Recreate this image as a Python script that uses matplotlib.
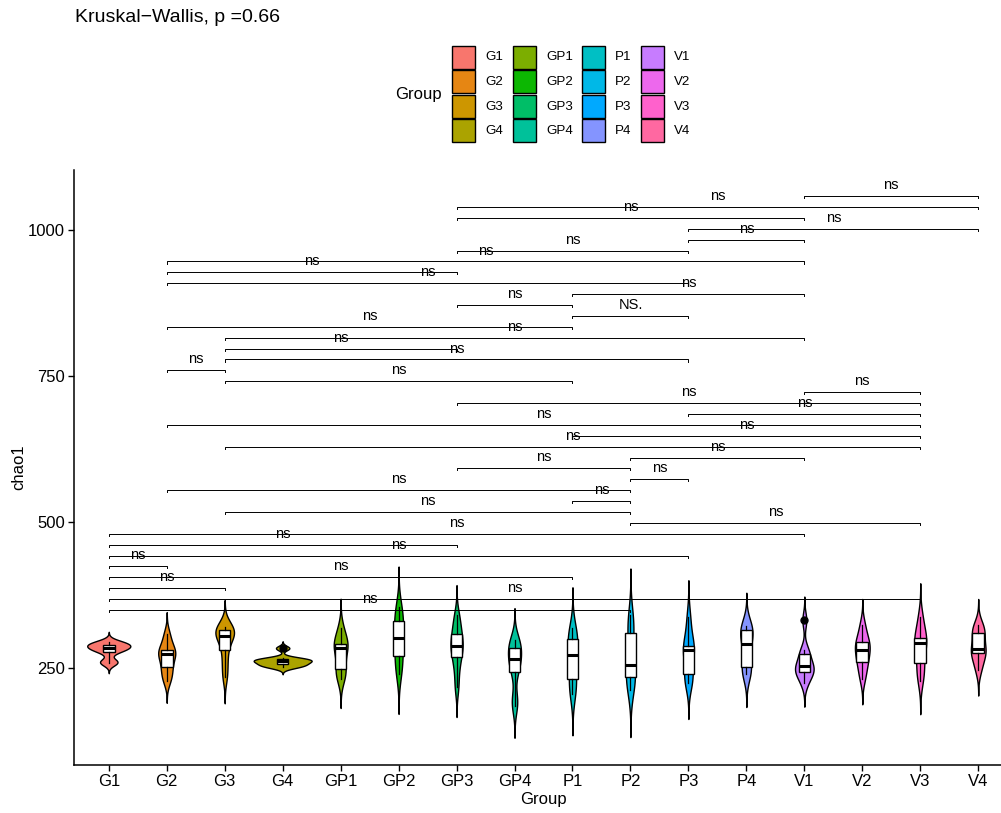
import matplotlib
matplotlib.use('Agg')
import matplotlib.pyplot as plt
from matplotlib.patches import Rectangle
import numpy as np

plt.rcParams['font.family'] = ['Liberation Sans', 'DejaVu Sans']

# group names and colours (ggplot hue palette, 16 levels)
groups = ['G1', 'G2', 'G3', 'G4', 'GP1', 'GP2', 'GP3', 'GP4',
          'P1', 'P2', 'P3', 'P4', 'V1', 'V2', 'V3', 'V4']
colors = ['#F8766D', '#E68613', '#CD9600', '#ABA300', '#7CAE00', '#0CB702', '#00BE67', '#00C19A',
          '#00BFC4', '#00B8E7', '#00A9FF', '#8494FF', '#C77CFF', '#ED68ED', '#FF61CC', '#FF68A1']

# chao1 values per group
G1 = [258, 262, 277, 282, 284, 287, 290, 292, 295]
G2 = [228, 240, 251, 262, 274, 276, 280, 292, 308]
G3 = [235, 258, 280, 298, 305, 310, 315, 318, 321]
G4 = [251, 254, 256, 259, 262, 263, 265, 267, 284]
GP1 = [232, 242, 249, 268, 285, 287, 291, 302, 318]
GP2 = [240, 255, 270, 290, 301, 312, 330, 342, 355]
GP3 = [218, 248, 268, 280, 288, 296, 308, 322, 340]
GP4 = [185, 198, 243, 255, 265, 272, 285, 292, 298]
P1 = [205, 218, 232, 255, 273, 285, 299, 305, 318]
P2 = [212, 225, 235, 245, 255, 278, 310, 325, 340]
P3 = [225, 232, 240, 268, 280, 284, 288, 310, 338]
P4 = [240, 246, 252, 275, 291, 305, 315, 318, 322]
V1 = [224, 238, 243, 248, 253, 258, 274, 280, 332]
V2 = [232, 250, 261, 272, 281, 288, 295, 305, 324]
V3 = [228, 245, 258, 280, 292, 297, 302, 318, 338]
V4 = [247, 262, 276, 279, 282, 298, 310, 316, 324]
samples = [G1, G2, G3, G4, GP1, GP2, GP3, GP4, P1, P2, P3, P4, V1, V2, V3, V4]

# pairwise comparisons, bottom bracket first
comparisons = [('G1', 'P2'), ('G1', 'V3'), ('G1', 'G3'), ('G1', 'P1'), ('G1', 'G2'),
               ('G1', 'P3'), ('G1', 'GP3'), ('G1', 'V1'), ('P2', 'V3'), ('G3', 'P2'),
               ('P1', 'P2'), ('G2', 'P2'), ('P2', 'P3'), ('GP3', 'P2'), ('P2', 'V1'),
               ('G3', 'V3'), ('P1', 'V3'), ('G2', 'V3'), ('P3', 'V3'), ('GP3', 'V3'),
               ('V1', 'V3'), ('G3', 'P1'), ('G2', 'G3'), ('G3', 'P3'), ('G3', 'GP3'),
               ('G3', 'V1'), ('G2', 'P1'), ('P1', 'P3'), ('GP3', 'P1'), ('P1', 'V1'),
               ('G2', 'P3'), ('G2', 'GP3'), ('G2', 'V1'), ('GP3', 'P3'), ('P3', 'V1'),
               ('P3', 'V4'), ('GP3', 'V1'), ('GP3', 'V4'), ('V1', 'V4')]
comp_labels = ['NS.' if c == ('P1', 'P3') else 'ns' for c in comparisons]
y_first, y_step = 349.3, 18.65


def kde_nrd0(x):
    x = np.asarray(x, float)
    n = len(x)
    iqr = np.subtract(*np.percentile(x, [75, 25]))
    bw = 0.9 * min(x.std(ddof=1), iqr / 1.34) * n ** -0.2
    grid = np.linspace(x.min() - 3 * bw, x.max() + 3 * bw, 512)
    d = np.exp(-0.5 * ((grid[:, None] - x[None, :]) / bw) ** 2).sum(1) / (n * bw * np.sqrt(2 * np.pi))
    return grid, d


W, H = 1001, 813
fig = plt.figure(figsize=(W / 100, H / 100), dpi=100)
ax = fig.add_axes([74 / W, 1 - 765 / H, (1013 - 74) / W, (765 - 170) / H])

dens = [kde_nrd0(s) for s in samples]
dmax = max(d.max() for _, d in dens)
pos = np.arange(1, len(groups) + 1)
for i, (grid, d) in enumerate(dens):
    hw = d / dmax * 0.5
    ax.fill_betweenx(grid, pos[i] - hw, pos[i] + hw, facecolor=colors[i],
                     edgecolor='black', linewidth=1.0, zorder=2)

ax.boxplot(samples, positions=pos, widths=0.2, patch_artist=True, showcaps=False,
           manage_ticks=False, zorder=3,
           boxprops=dict(facecolor='white', edgecolor='black', linewidth=1.0),
           medianprops=dict(color='black', linewidth=2.2),
           whiskerprops=dict(color='black', linewidth=0.9),
           flierprops=dict(marker='o', markerfacecolor='black', markeredgecolor='black', markersize=5))

# significance brackets
tip = 3.5
for k, ((a, b), lab) in enumerate(zip(comparisons, comp_labels)):
    x1, x2 = groups.index(a) + 1, groups.index(b) + 1
    y = y_first + k * y_step
    ax.plot([x1, x1, x2, x2], [y - tip, y, y, y - tip], color='black', lw=0.7, zorder=4)
    ax.annotate(lab, ((x1 + x2) / 2, y), xytext=(0, 5.0), textcoords='offset points',
                ha='center', va='baseline', fontsize=10.5, zorder=5)

ax.set_xlim(0.4, 16.6)
ax.set_ylim(83.9, 1102.7)
ax.set_xticks(pos)
ax.set_xticklabels(groups)
ax.set_yticks([250, 500, 750, 1000])
ax.tick_params(labelsize=12, length=4, width=1, pad=2.5, colors='black')
for s in ['top', 'right']:
    ax.spines[s].set_visible(False)
for s in ['left', 'bottom']:
    ax.spines[s].set_linewidth(1.1)
ax.set_xlabel('Group', fontsize=12, labelpad=2)
ax.set_ylabel('chao1', fontsize=12, labelpad=1)

fig.text(75 / W, 1 - 17 / H, 'Kruskal\u2212Wallis, p =0.66', fontsize=14, va='center', ha='left')

# legend: 4 x 4 grid of keys, filled column by column
key_cols = [452, 513, 582, 641]
key_top, key_size, row_step = 46, 23, 24.5
for i, (g, c) in enumerate(zip(groups, colors)):
    col, row = divmod(i, 4)
    x0 = key_cols[col]
    y0 = key_top + row * row_step
    fig.add_artist(Rectangle((x0 / W, 1 - (y0 + key_size) / H), key_size / W, key_size / H,
                             transform=fig.transFigure, facecolor=c, edgecolor='black', linewidth=1.0))
    fig.text((x0 + key_size + 10) / W, 1 - (y0 + key_size / 2) / H, g, fontsize=9.6,
             va='center', ha='left')
fig.text(395 / W, 1 - 95 / H, 'Group', fontsize=12, va='center', ha='left')

fig.savefig('out.png', dpi=100)
